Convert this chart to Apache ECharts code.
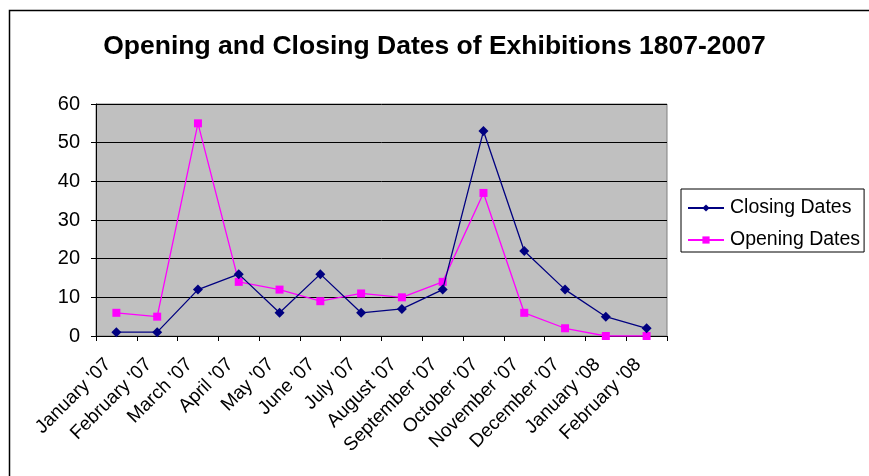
<!DOCTYPE html>
<html>
<head>
<meta charset="utf-8">
<script src="https://cdn.jsdelivr.net/npm/echarts@6/dist/echarts.min.js"></script>
<style>
html,body{margin:0;padding:0;background:#fff;}
#c{width:869px;height:476px;}
</style>
</head>
<body>
<div id="c"></div>
<script>
var categories = ["January '07","February '07","March '07","April '07","May '07","June '07","July '07","August '07","September '07","October '07","November '07","December '07","January '08","February '08"];
var closingDates = [1,1,12,16,6,16,6,7,12,53,22,12,5,2];
var openingDates = [6,5,55,14,12,9,11,10,14,37,6,2,0,0];
var yTicks = {min:0, max:60, interval:10};

var chart = echarts.init(document.getElementById('c'), null, {renderer:'canvas'});
var font = 'Liberation Sans, Arial, sans-serif';
chart.setOption({
  animation:false,
  backgroundColor:'#fff',
  graphic:[{
    type:'rect', left:7, top:8, shape:{width:900, height:500},
    style:{fill:'none', stroke:'#000', lineWidth:1.5}, z:-1
  }],
  title:{
    text:'Opening and Closing Dates of Exhibitions 1807-2007',
    left:'center', top:28,
    textStyle:{fontFamily:font, fontSize:26.5, fontWeight:'bold', color:'#000'}
  },
  legend:{
    orient:'vertical', left:681, top:189,
    padding:[9,4,2,6], itemGap:12,
    itemWidth:36, itemHeight:9,
    borderColor:'#000', borderWidth:1, backgroundColor:'#fff',
    textStyle:{fontFamily:font, fontSize:19.5, color:'#000', padding:[0,0,0,1]},
    data:['Closing Dates','Opening Dates']
  },
  grid:{left:96, right:202, top:104, bottom:140, show:true, backgroundColor:'#C0C0C0', borderColor:'#808080', borderWidth:1},
  xAxis:{
    type:'category', data:categories, boundaryGap:true,
    axisLine:{lineStyle:{color:'#000', width:1}},
    axisTick:{show:true, alignWithLabel:false, length:5, lineStyle:{color:'#000'}},
    axisLabel:{rotate:45, interval:0, fontFamily:font, fontSize:19, color:'#000', margin:17, padding:[0,12,0,0]},
    splitLine:{show:false}
  },
  yAxis:{
    type:'value', min:yTicks.min, max:yTicks.max, interval:yTicks.interval,
    axisLine:{show:true, lineStyle:{color:'#000', width:1}},
    axisTick:{show:true, length:5, lineStyle:{color:'#000'}},
    axisLabel:{fontFamily:font, fontSize:20, color:'#000', margin:16},
    splitLine:{show:true, lineStyle:{color:'#000', width:1}}
  },
  series:[
    {name:'Closing Dates', type:'line', data:closingDates, symbol:'diamond', symbolSize:10,
     lineStyle:{color:'#000080', width:1.3}, itemStyle:{color:'#000080'}, z:3},
    {name:'Opening Dates', type:'line', data:openingDates, symbol:'rect', symbolSize:8,
     lineStyle:{color:'#FF00FF', width:1.3}, itemStyle:{color:'#FF00FF'}, z:2}
  ]
});
</script>
</body>
</html>
